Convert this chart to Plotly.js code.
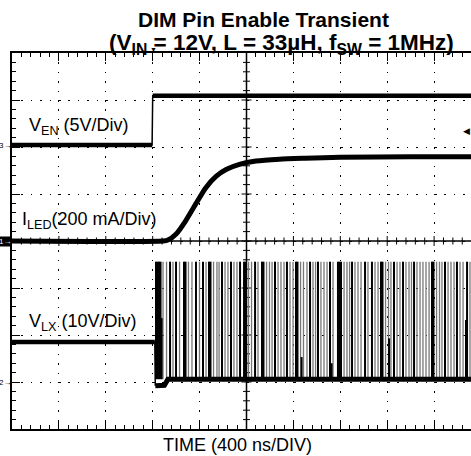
<!DOCTYPE html>
<html><head><meta charset="utf-8">
<script src="https://cdn.plot.ly/plotly-3.0.1.min.js"></script>
<style>html,body{margin:0;padding:0;overflow:hidden;background:#fff;width:471px;height:456px}#chart{width:483px;height:456px}</style>
</head><body><div id="chart"></div>
<script>
// ---- data (time in ns from the left edge of the screen, 400 ns/div) ----
const venTime = [0, 1195, 1200, 4000];
const venVolts = [0, 0, 5.25, 5.25];
const ledTime = [0, 1290, 1330, 1400, 1480, 1570, 1650, 1740, 1830, 1940, 2080, 2280, 2500, 2800, 3400, 4000];
const ledCurrent = [0, 0, 4, 30, 85, 160, 225, 275, 305, 326, 340, 348, 352, 356, 358, 358];
const lxPreTime = [0, 1218, 1222];
const lxPreVolts = [8.5, 8.5, -0.8];
const lxLowTime = [1222, 1300, 1330, 4000];
const lxLowVolts = [-0.8, -0.7, 0.6, 0.6];
const lxHigh = 25.6;
const pulseDark = [1228, 1241, 1254, 1267, 1348, 1399, 1467, 1480, 1569, 1629, 1680, 1693, 1791, 1868, 1945, 1979, 1991, 2073, 2132, 2145, 2243, 2345, 2422, 2435, 2542, 2610, 2712, 2780, 2793, 2806, 2900, 3011, 3070, 3147, 3160, 3258, 3335, 3429, 3582, 3595, 3693, 3795, 3881];
const pulseLight = [1288, 1318, 1373, 1429, 1505, 1535, 1599, 1655, 1719, 1748, 1766, 1817, 1842, 1893, 1919, 2017, 2043, 2098, 2171, 2196, 2218, 2269, 2294, 2320, 2371, 2397, 2461, 2486, 2516, 2567, 2589, 2635, 2661, 2687, 2738, 2832, 2857, 2879, 2925, 2951, 2977, 3036, 3096, 3122, 3186, 3211, 3232, 3284, 3309, 3360, 3386, 3407, 3454, 3480, 3505, 3531, 3557, 3621, 3646, 3667, 3719, 3744, 3770, 3821, 3847, 3906];
const pulsePartialTime = [1276, 2470, 2726, 3216, 3872];
const pulsePartialPeak = [13.6, 5.3, 4.0, 9.3, 13.2];
const labels = ['V<sub>EN</sub> (5V/Div)', 'I<sub>LED</sub>(200 mA/Div)', 'V<sub>LX</sub> (10V/Div)'];
const titleLines = ['<b>DIM Pin Enable Transient</b>', '<b>(V<sub>IN</sub> = 12V, L = 33µH, f<sub>SW</sub> = 1MHz)</b>'];
const xTitle = 'TIME (400 ns/DIV)';

// ---- scope channel settings (units per division, ground offset in divisions) ----
const VEN_DIV = 5, VEN_OFF = 2.04;
const LED_DIV = 200, LED_OFF = 0;
const LX_DIV = 10, LX_OFF = -3;
const NS_DIV = 400;

// ---- geometry ----
const W = 483, H = 456, ML = 12, MT = 53, PW = 469, PH = 376;
const FONT = 'Liberation Sans, Arial, Helvetica, sans-serif';
const DIVPX_X = PW / 10, DIVPX_Y = PH / 8;
const XR = 10 * NS_DIV;
const X = px => (px - ML) / PW;
const Y = py => 1 - (py - MT) / PH;
const K = '#000';

const toDiv = (vals, per, off) => vals.map(v => (v === null ? null : v / per + off));
function spikes(ts, lo, hi) {
  const x = [], y = [];
  ts.forEach((t, i) => { x.push(t, t, null); y.push(lo, Array.isArray(hi) ? hi[i] : hi, null); });
  return {x, y};
}
// thick version of a trace: break the path at vertical edges (drawn thin)
function flats(ts, vs) {
  const x = [ts[0]], y = [vs[0]];
  for (let i = 1; i < ts.length; i++) {
    if (ts[i] - ts[i - 1] < 20) { x.push(null); y.push(null); }
    x.push(ts[i]); y.push(vs[i]);
  }
  return {x, y};
}
// centre graticule: cross lines and their ticks
const tk = {x: [], y: []};
const seg = (x0, y0, x1, y1) => { tk.x.push(x0, x1, null); tk.y.push(y0, y1, null); };
for (let i = 1; i < 50; i++) { const t = i * NS_DIV / 5, c = (i % 5 ? 3.5 : 5) / DIVPX_Y; seg(t, -c, t, c); }
for (let j = -19; j < 20; j++) { const v = j / 5, c = (j % 5 ? 3.5 : 5) / DIVPX_X * NS_DIV; seg(XR / 2 - c, v, XR / 2 + c, v); }
const cross = {x: [XR / 2, XR / 2, null, 0, XR], y: [-4, 4, null, 0, 0]};

const lo = lxLowVolts[lxLowVolts.length - 1];
const sd = spikes(pulseDark, lo, lxHigh);
const sl = spikes(pulseLight, lo, lxHigh);
const sp = spikes(pulsePartialTime, lo, pulsePartialPeak);
const venF = flats(venTime, venVolts);
const lxF = flats(lxPreTime, lxPreVolts);
const lxD = v => toDiv(v, LX_DIV, LX_OFF);
const venD = v => toDiv(v, VEN_DIV, VEN_OFF);

const traces = [
  {x: tk.x, y: tk.y, mode: 'lines', line: {color: K, width: 1}},
  {x: cross.x, y: cross.y, mode: 'lines', line: {color: K, width: 1.5}},
  {x: sl.x, y: lxD(sl.y), mode: 'lines', line: {color: '#777', width: 1.3}},
  {x: sd.x, y: lxD(sd.y), mode: 'lines', line: {color: K, width: 2}},
  {x: sp.x, y: lxD(sp.y), mode: 'lines', line: {color: K, width: 2}},
  {x: lxPreTime, y: lxD(lxPreVolts), mode: 'lines', line: {color: K, width: 1.5}},
  {x: lxF.x, y: lxD(lxF.y), mode: 'lines', line: {color: K, width: 4.5}},
  {x: lxLowTime, y: lxD(lxLowVolts), mode: 'lines', line: {color: K, width: 5}},
  {x: ledTime, y: toDiv(ledCurrent, LED_DIV, LED_OFF), mode: 'lines', line: {color: K, width: 5, shape: 'spline', smoothing: 0.6}},
  {x: venTime, y: venD(venVolts), mode: 'lines', line: {color: K, width: 1.5}},
  {x: venF.x, y: venD(venF.y), mode: 'lines', line: {color: K, width: 4.5}}
];

const axCommon = {
  showline: true, linecolor: K, linewidth: 2, mirror: 'allticks',
  ticks: 'inside', ticklen: 8, tickwidth: 1, tickcolor: K,
  showticklabels: false, showgrid: true, gridcolor: K, gridwidth: 1,
  griddash: '1.5px,7.9px', fixedrange: true, zeroline: false
};
const layout = {
  width: W, height: H, margin: {l: ML, r: W - ML - PW, t: MT, b: H - MT - PH},
  showlegend: false,
  xaxis: Object.assign({}, axCommon, {range: [0, XR], dtick: NS_DIV, tick0: 0,
    minor: {dtick: NS_DIV / 5, tick0: 0, ticks: 'inside', ticklen: 4, tickwidth: 1, tickcolor: K, showgrid: false}}),
  yaxis: Object.assign({}, axCommon, {range: [-4, 4], dtick: 1, tick0: 0,
    minor: {dtick: 0.2, tick0: 0, ticks: 'inside', ticklen: 4, tickwidth: 1, tickcolor: K, showgrid: false}}),
  annotations: []
};
const ann = (text, px, py, size, opts) => Object.assign({text, xref: 'paper', yref: 'paper', x: X(px), y: Y(py), showarrow: false, font: {family: FONT, size, color: K}, borderpad: 0}, opts || {});
layout.annotations.push(
  ann(titleLines[0], 263, 20, 21, {xanchor: 'center', yanchor: 'middle'}),
  ann(titleLines[1], 281, 44, 22.5, {xanchor: 'center', yanchor: 'middle'}),
  ann(labels[0], 28, 126, 18, {xanchor: 'left', yanchor: 'middle'}),
  ann(labels[1], 21, 220, 18, {xanchor: 'left', yanchor: 'middle'}),
  ann(labels[2], 28, 322, 18, {xanchor: 'left', yanchor: 'middle'}),
  ann(xTitle, 237.5, 445, 18, {xanchor: 'center', yanchor: 'middle'}),
  ann('3→', 12, 145.5, 8, {xanchor: 'right', yanchor: 'middle'}),
  ann('1→', 12, 241, 8, {xanchor: 'right', yanchor: 'middle', bgcolor: K, font: {family: FONT, size: 8, color: '#fff'}}),
  ann('2→', 12, 382, 8, {xanchor: 'right', yanchor: 'middle'}),
  ann('▼', 153.5, 50, 7, {xanchor: 'center', yanchor: 'middle'}),
  ann('◀', 471, 131, 9, {xanchor: 'right', yanchor: 'middle'})
);
Plotly.newPlot('chart', traces, layout, {staticPlot: true});
</script></body></html>
